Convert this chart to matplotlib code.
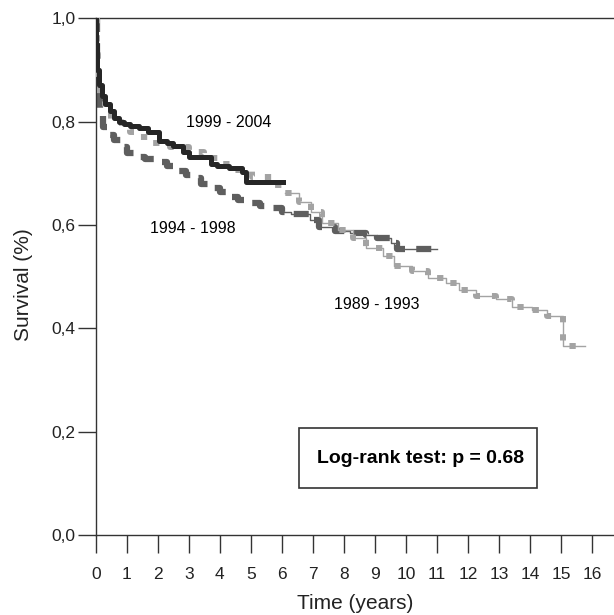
import numpy as np
import matplotlib.pyplot as plt
from matplotlib.patches import Rectangle

plt.rcParams['font.family'] = ['Liberation Sans', 'DejaVu Sans']

# Kaplan-Meier curves (time in years, survival)
t_99 = [0, 0.02, 0.05, 0.1, 0.2, 0.3, 0.45, 0.6, 0.75, 0.9, 1.1, 1.4, 1.7, 2.05, 2.3,
        2.5, 2.8, 3.0, 3.7, 3.9, 4.3, 4.7, 4.85, 6.05]
s_99 = [1.0, 0.95, 0.90, 0.87, 0.85, 0.835, 0.82, 0.808, 0.80, 0.795, 0.792, 0.787, 0.78,
        0.763, 0.758, 0.752, 0.742, 0.731, 0.719, 0.715, 0.71, 0.703, 0.683, 0.683]

t_94 = [0, 0.03, 0.08, 0.15, 0.25, 0.4, 0.6, 0.8, 1.0, 1.25, 1.6, 1.9, 2.3, 2.6, 2.9, 3.1,
        3.4, 3.7, 4.0, 4.3, 4.6, 4.85, 5.3, 5.7, 6.0, 6.3, 6.9, 7.2, 7.7, 8.2, 8.7, 9.05,
        9.5, 9.7, 11.0]
s_94 = [1.0, 0.92, 0.86, 0.82, 0.79, 0.775, 0.765, 0.75, 0.74, 0.731, 0.727, 0.722, 0.715,
        0.705, 0.696, 0.69, 0.68, 0.671, 0.663, 0.655, 0.648, 0.642, 0.637, 0.633, 0.625,
        0.621, 0.61, 0.596, 0.588, 0.585, 0.581, 0.575, 0.565, 0.554, 0.554]

t_89 = [0, 0.03, 0.08, 0.15, 0.3, 0.5, 0.85, 1.1, 1.35, 1.85, 2.4, 3.0, 3.5, 4.0, 4.5, 5.05,
        5.7, 6.1, 6.55, 6.95, 7.3, 7.8, 8.3, 8.7, 9.25, 9.6, 10.2, 10.7, 11.3, 11.7, 12.25,
        12.9, 13.4, 14.05, 14.55, 15.05, 15.75]
s_89 = [1.0, 0.93, 0.87, 0.84, 0.82, 0.80, 0.787, 0.78, 0.77, 0.758, 0.75, 0.741, 0.73,
        0.718, 0.706, 0.692, 0.677, 0.662, 0.644, 0.625, 0.604, 0.59, 0.575, 0.556, 0.54,
        0.521, 0.51, 0.498, 0.488, 0.475, 0.462, 0.456, 0.442, 0.435, 0.423, 0.365, 0.365]

x_ticks = list(range(0, 17))
y_ticks = [0.0, 0.2, 0.4, 0.6, 0.8, 1.0]
y_labels = ['0,0', '0,2', '0,4', '0,6', '0,8', '1,0']

fig = plt.figure(figsize=(6.14, 6.15), dpi=100)
ax = fig.add_axes([0.1559, 0.1301, 0.8441, 0.8401])

c_89 = '#a3a3a3'
c_94 = '#5e5e5e'
c_99 = '#262626'

ax.plot(t_94, s_94, drawstyle='steps-post', color=c_94, lw=4.5, dashes=(2.4, 1.8),
        solid_capstyle='butt', dash_capstyle='butt', zorder=2)
ax.plot(t_89, s_89, drawstyle='steps-post', color=c_89, lw=4.3, dashes=(1.05, 2.0),
        dash_capstyle='butt', zorder=3)

# thin connecting lines on the later, sparser part of the gray curves
t94 = np.array(t_94); s94 = np.array(s_94)
t89 = np.array(t_89); s89 = np.array(s_89)
m94 = t94 >= 6
m89 = t89 >= 6
ax.plot(t94[m94], s94[m94], drawstyle='steps-post', color=c_94, lw=1, zorder=2)
ax.plot(t89[m89], s89[m89], drawstyle='steps-post', color=c_89, lw=1, zorder=3)

ax.plot(t_99, s_99, drawstyle='steps-post', color=c_99, lw=3.6, zorder=4)

ax.text(4.28, 0.799, '1999 - 2004', fontsize=11.5, ha='center', va='center')
ax.text(3.12, 0.594, '1994 - 1998', fontsize=11.5, ha='center', va='center')
ax.text(9.06, 0.447, '1989 - 1993', fontsize=11.5, ha='center', va='center')

ax.add_patch(Rectangle((0.392, 0.091), 0.459, 0.116, transform=ax.transAxes,
                       fill=False, edgecolor='#333333', lw=1.2, zorder=5))
ax.text(0.626, 0.149, 'Log-rank test: p = 0.68', transform=ax.transAxes,
        fontsize=14, fontweight='bold', ha='center', va='center')

ax.set_xlim(0, 16.7)
ax.set_ylim(0, 1.0)
ax.set_xticks(x_ticks)
ax.set_yticks(y_ticks)
ax.set_yticklabels(y_labels)
ax.tick_params(axis='both', direction='out', length=13, width=1, labelsize=12.5,
               color='#333333', labelcolor='#222222')
ax.tick_params(axis='x', pad=10)
ax.tick_params(axis='y', pad=1.5)

ax.spines['right'].set_visible(False)
for sp in ['left', 'bottom', 'top']:
    ax.spines[sp].set_linewidth(1)
    ax.spines[sp].set_color('#333333')

ax.set_xlabel('Time (years)', fontsize=15, color='#222222')
ax.set_ylabel('Survival (%)', fontsize=15, color='#222222')
ax.xaxis.set_label_coords(0.5, -0.115)
ax.yaxis.set_label_coords(-0.121, 0.485)

fig.savefig('out.png', dpi=100)
